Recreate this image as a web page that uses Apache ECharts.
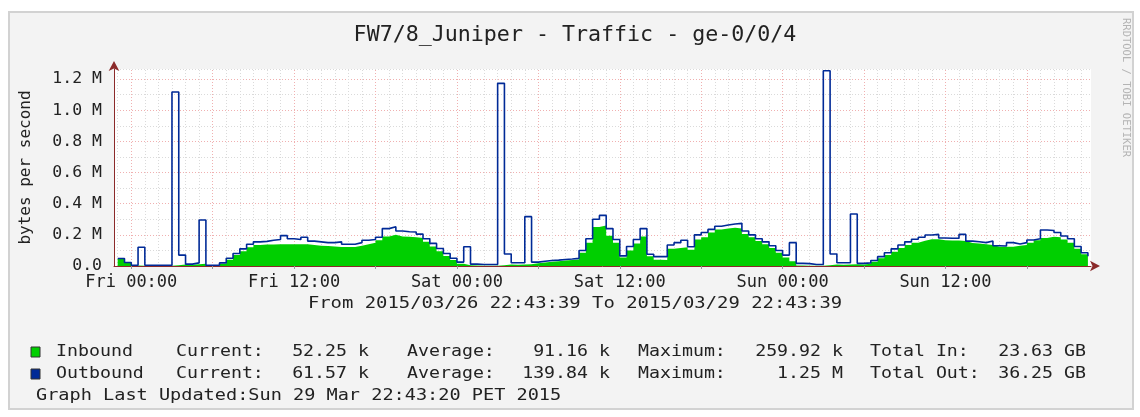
<!DOCTYPE html>
<html>
<head>
<meta charset="utf-8">
<script src="https://cdn.jsdelivr.net/npm/echarts@6/dist/echarts.min.js"></script>
<style>
  html, body { margin: 0; padding: 0; background: #fff; }
  #chart { width: 1140px; height: 417px; }
</style>
</head>
<body>
<div id="chart"></div>
<script>
// 30 minute samples, first one at Thu 23:00 (hours relative to Fri 00:00)
const firstSampleHour = -1;
const sampleStepHours = 0.5;
// bytes per second, in thousands
const inbound = [
  45, 20, 3, 2, 2, 2, 2, 2, 5, 10, 8, 12, 15, 2, 2, 15, 40, 70, 95, 120,
  135, 138, 138, 140, 140, 140, 140, 140, 135, 130, 128, 125, 122, 122, 122, 130, 140, 150, 165, 190,
  200, 190, 188, 185, 180, 155, 125, 95, 65, 38, 15, 5, 3, 2, 2, 2, 5, 10, 8, 10,
  12, 18, 22, 27, 30, 35, 38, 42, 85, 150, 250, 260, 195, 150, 55, 100, 145, 190, 62, 40,
  38, 110, 115, 120, 105, 170, 185, 215, 235, 240, 245, 240, 205, 185, 160, 140, 115, 85, 55, 30,
  3, 2, 2, 2, 5, 10, 8, 10, 12, 10, 15, 28, 50, 70, 92, 115, 135, 150, 162, 171,
  172, 165, 163, 163, 160, 148, 145, 140, 135, 124, 124, 124, 130, 135, 150, 165, 180, 188, 185, 170,
  150, 110, 75, 52
];
const outbound = [
  48, 22, 5, 120, 5, 5, 5, 5, 1117, 70, 12, 20, 295, 5, 5, 20, 50, 80, 110, 140,
  155, 158, 165, 170, 195, 175, 170, 185, 160, 155, 150, 150, 155, 140, 140, 150, 165, 170, 185, 240,
  252, 225, 220, 218, 205, 175, 145, 112, 80, 50, 25, 124, 12, 10, 10, 10, 1173, 77, 21, 21,
  317, 25, 30, 35, 38, 42, 45, 49, 100, 175, 300, 325, 240, 170, 65, 125, 170, 240, 75, 60,
  60, 135, 150, 165, 124, 200, 215, 235, 255, 263, 270, 274, 225, 200, 175, 155, 130, 100, 70, 150,
  17, 15, 10, 10, 1254, 77, 21, 21, 334, 17, 20, 35, 60, 85, 110, 135, 155, 172, 185, 199,
  203, 180, 178, 178, 203, 160, 156, 150, 160, 130, 128, 150, 141, 150, 167, 175, 231, 228, 215, 193,
  175, 125, 85, 62
];

const startHour = -1.2725;   // 2015/03/26 22:43:39
const endHour = 70.7275;     // 2015/03/29 22:43:39
const xTickHours = [0, 12, 24, 36, 48, 60];
const xTickLabels = ['Fri 00:00', 'Fri 12:00', 'Sat 00:00', 'Sat 12:00', 'Sun 00:00', 'Sun 12:00'];

const legendNames = ['Inbound', 'Outbound'];
const legendColors = ['#00cf00', '#002a97'];
const currentVals = ['52.25 k', '61.57 k'];
const averageVals = ['91.16 k', '139.84 k'];
const maximumVals = ['259.92 k', '1.25 M'];
const totalLabels = ['Total In:', 'Total Out:'];
const totalVals = ['23.63 GB', '36.25 GB'];

const titleText = 'FW7/8_Juniper - Traffic - ge-0/0/4';
const rangeText = 'From 2015/03/26 22:43:39 To 2015/03/29 22:43:39';
const updatedText = 'Graph Last Updated:Sun 29 Mar 22:43:20 PET 2015';

const mono = '"DejaVu Sans Mono", monospace';
const toPoints = arr => arr.map((v, i) => [firstSampleHour + i * sampleStepHours, v * 1000]);

const gridHours = [];
for (let h = Math.ceil(startHour); h <= Math.floor(endHour); h++) gridHours.push(h);

function txt(x, y, text, opt) {
  opt = opt || {};
  return {
    type: 'text', x: x, y: y, scaleX: opt.scaleX || 1.14, rotation: opt.rotation || 0, z: 50,
    style: {
      text: text, font: (opt.size || 16) + 'px ' + mono, fill: opt.color || '#222',
      align: opt.align || 'left', verticalAlign: 'middle'
    }
  };
}

const rowY = [352, 374];
const graphics = [
  { type: 'rect', z: -10, shape: { x: 9, y: 12, width: 1124, height: 397 },
    style: { fill: '#f3f3f3', stroke: '#d2d2d2', lineWidth: 2 } },
  txt(575, 36, titleText, { size: 21, align: 'center', scaleX: 1.03 }),
  txt(575, 304, rangeText, { align: 'center', scaleX: 1.18 }),
  txt(36, 396, updatedText, { scaleX: 1.16 }),
  txt(1126, 18, 'RRDTOOL / TOBI OETIKER', { size: 10.5, color: '#b4b4b4', rotation: -Math.PI / 2, scaleX: 1 })
];
legendNames.forEach((name, i) => {
  const y = rowY[i];
  graphics.push(
    { type: 'rect', z: 50, shape: { x: 31, y: y - 5, width: 9, height: 10 },
      style: { fill: legendColors[i], stroke: '#333', lineWidth: 1 } },
    txt(56, y, name),
    txt(176, y, 'Current:'),
    txt(369, y, currentVals[i], { align: 'right' }),
    txt(407, y, 'Average:'),
    txt(610, y, averageVals[i], { align: 'right' }),
    txt(638, y, 'Maximum:'),
    txt(843, y, maximumVals[i], { align: 'right' }),
    txt(870, y, totalLabels[i]),
    txt(1086, y, totalVals[i], { align: 'right' })
  );
});

const chart = echarts.init(document.getElementById('chart'), null, { renderer: 'canvas' });
chart.setOption({
  backgroundColor: '#ffffff',
  animation: false,
  grid: {
    left: 114, top: 69, width: 977, height: 197,
    show: true, backgroundColor: '#ffffff', borderWidth: 0,
    containLabel: false, outerBoundsMode: 'none'
  },
  xAxis: {
    type: 'value', min: startHour, max: endHour,
    axisLine: { show: true, onZero: false, symbol: ['none', 'arrow'], symbolSize: [8, 10], symbolOffset: [0, 9],
      lineStyle: { color: '#8b2a2a', width: 1 } },
    axisTick: { show: true, length: 3, customValues: [0, 6, 12, 18, 24, 30, 36, 42, 48, 54, 60, 66],
      lineStyle: { color: '#999' } },
    axisLabel: {
      customValues: xTickHours, margin: 8,
      fontFamily: mono, fontSize: 17, color: '#222',
      formatter: v => xTickLabels[xTickHours.indexOf(Math.round(v))] || ''
    },
    splitLine: { show: false }
  },
  yAxis: {
    type: 'value', min: 0, max: 1265000, interval: 100000,
    name: 'bytes per second', nameLocation: 'middle', nameGap: 80, nameRotate: 90,
    nameTextStyle: { fontFamily: mono, fontSize: 16, color: '#222' },
    axisLine: { show: true, onZero: false, symbol: ['none', 'arrow'], symbolSize: [8, 10], symbolOffset: [0, 8],
      lineStyle: { color: '#8b2a2a', width: 1 } },
    axisTick: { show: false },
    axisLabel: {
      margin: 12, fontFamily: mono, fontSize: 16.5, color: '#222',
      formatter: v => (v % 200000 !== 0) ? '' : (v === 0 ? '0.0' : (v / 1e6).toFixed(1) + ' M')
    },
    splitLine: { show: true, lineStyle: { color: ['#f0b0b0', '#dadada'], type: [1, 2], width: 1 } }
  },
  series: [
    {
      type: 'line', z: 1, silent: true, data: [[startHour, 0]], showSymbol: false,
      lineStyle: { opacity: 0 },
      markLine: {
        z: 1, silent: true, symbol: ['none', 'none'], label: { show: false }, animation: false,
        data: gridHours.map(h => ({
          xAxis: h,
          lineStyle: { color: h % 6 === 0 ? '#f0b0b0' : '#dadada', type: [1, 2], width: 1 }
        }))
      }
    },
    {
      name: 'Inbound', type: 'line', z: 3, step: 'end', data: toPoints(inbound),
      showSymbol: false, lineStyle: { width: 0 },
      areaStyle: { color: '#00cf00', opacity: 1 }
    },
    {
      name: 'Outbound', type: 'line', z: 4, step: 'end', data: toPoints(outbound),
      showSymbol: false, lineStyle: { color: '#002a97', width: 1.6 }
    }
  ],
  graphic: graphics
});
</script>
</body>
</html>
